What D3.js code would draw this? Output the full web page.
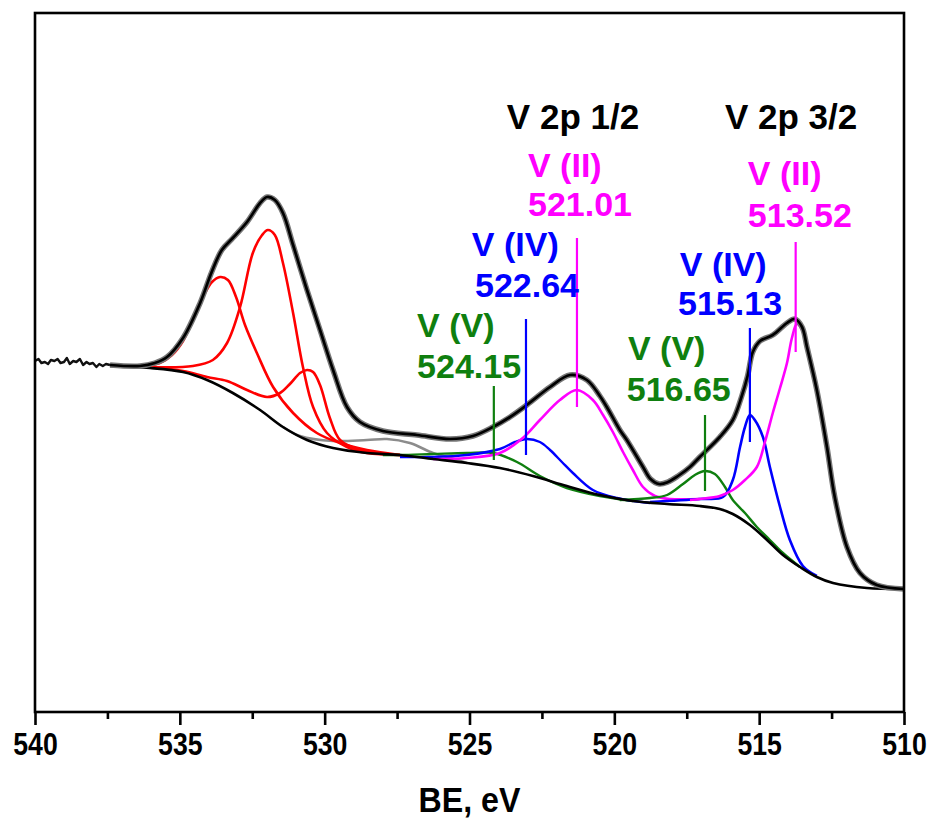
<!DOCTYPE html>
<html>
<head>
<meta charset="utf-8">
<script src="https://cdnjs.cloudflare.com/ajax/libs/d3/7.8.5/d3.min.js"></script>
<style>
  body { margin: 0; background: #fff; }
  #chart text { font-family: "Liberation Sans", Arial, Helvetica, sans-serif; font-weight: bold; }
</style>
</head>
<body>
<div id="chart"></div>
<script>
// ---- data: [binding energy eV, intensity a.u.] ----
var majorTicks = [540, 535, 530, 525, 520, 515, 510];
var minorTicks = [537.5, 532.5, 527.5, 522.5, 517.5, 512.5];

var rawLeft = [
  [540.00, 351], [539.88, 353], [539.78, 349], [539.66, 350], [539.55, 348], [539.45, 352],
  [539.33, 351], [539.22, 353], [539.12, 349], [539.00, 350], [538.90, 354], [538.80, 348],
  [538.68, 351], [538.57, 350], [538.45, 353], [538.34, 347], [538.22, 350], [538.12, 348],
  [538.00, 349], [537.88, 345], [537.78, 348], [537.66, 346], [537.55, 348], [537.41, 347]
];

var envelope = [
  [537.41, 347], [536.38, 346], [535.86, 349], [535.44, 355], [534.89, 374], [534.30, 409],
  [533.90, 440], [533.55, 462], [533.17, 474], [532.68, 490], [532.23, 509], [531.99, 515],
  [531.72, 512], [531.44, 499], [531.09, 467], [530.61, 422], [530.16, 382], [529.71, 342],
  [529.23, 305], [528.78, 290], [527.99, 281], [526.81, 277], [525.67, 273], [524.88, 276],
  [524.19, 285], [523.60, 295], [523.02, 307], [522.22, 325], [521.53, 337], [520.95, 332],
  [520.50, 316], [520.26, 305], [519.81, 282], [519.57, 272], [519.01, 245], [518.75, 233],
  [518.45, 228], [518.15, 230], [517.80, 236], [517.39, 245], [517.05, 255], [516.36, 275],
  [515.91, 292], [515.60, 316], [515.40, 336], [515.22, 360], [514.97, 371], [514.53, 377],
  [514.04, 389], [513.77, 393], [513.52, 385], [513.35, 365], [513.01, 322], [512.66, 265],
  [512.39, 215], [511.97, 165], [511.52, 139], [510.94, 127], [510.00, 123]
];

var background = [
  [537.41, 346], [536.03, 344], [534.89, 340], [534.06, 332], [533.17, 319], [532.23, 302],
  [531.44, 285], [530.61, 272], [529.71, 264], [528.54, 259], [527.40, 257], [526.26, 253],
  [525.09, 249], [523.95, 244], [522.81, 236], [521.64, 226], [520.50, 217], [519.36, 211],
  [518.18, 208], [517.05, 206], [516.36, 203], [515.91, 198], [515.32, 187], [514.73, 172],
  [514.18, 157], [513.59, 145], [513.01, 135], [512.45, 129], [511.28, 124], [510.00, 123]
];

var redA = [
  [536.38, 346], [535.69, 349], [535.27, 357], [534.89, 371], [534.48, 397], [534.13, 419],
  [533.89, 430], [533.61, 435], [533.34, 432], [533.06, 415], [532.75, 387], [532.34, 359],
  [531.78, 325], [531.09, 299], [530.27, 279], [529.47, 269], [528.54, 262], [527.40, 257]
];
var redB = [
  [536.03, 345], [534.55, 346], [533.86, 352], [533.37, 369], [532.92, 405], [532.48, 459],
  [532.16, 477], [531.96, 482], [531.72, 477], [531.44, 449], [531.09, 399], [530.75, 345],
  [530.40, 305], [529.92, 279], [529.23, 265], [528.54, 259], [527.40, 257]
];
var redC = [
  [536.03, 345], [534.89, 341], [534.06, 335], [533.37, 331], [532.68, 322], [531.99, 315],
  [531.54, 319], [531.20, 328], [530.85, 339], [530.61, 342], [530.40, 340], [530.16, 327],
  [529.82, 294], [529.47, 272], [528.78, 262], [527.40, 257]
];
var greyPeak = [
  [531.44, 285], [530.85, 276], [529.71, 271], [528.54, 272], [527.85, 273], [527.06, 269],
  [526.26, 259], [525.78, 255], [525.09, 249]
];
var greenHalf = [
  [527.99, 257], [527.40, 257], [526.26, 258], [525.09, 259], [524.19, 259], [523.36, 250],
  [522.57, 236], [521.64, 224], [520.50, 216], [519.36, 211]
];
var blueHalf = [
  [527.40, 255], [526.26, 255], [525.09, 257], [523.95, 263], [523.43, 270], [523.02, 273],
  [522.57, 270], [522.22, 262], [521.81, 250], [521.43, 239], [520.74, 222], [519.91, 214],
  [518.77, 209]
];
var magentaHalf = [
  [526.26, 253], [525.09, 254], [523.95, 259], [523.16, 274], [522.57, 292], [521.88, 312],
  [521.29, 322], [520.74, 312], [520.39, 297], [520.05, 280], [519.70, 260], [519.36, 242],
  [519.01, 225], [518.60, 216], [518.08, 213], [517.05, 213]
];
var greenMain = [
  [519.81, 212], [518.77, 214], [518.18, 217], [517.63, 228], [517.22, 237], [516.87, 241],
  [516.53, 238], [516.18, 225], [515.91, 212], [515.49, 199], [515.08, 185], [514.63, 172],
  [514.18, 159], [513.59, 145]
];
var blueMain = [
  [518.77, 210], [517.05, 213], [516.25, 215], [515.91, 232], [515.66, 265], [515.49, 285],
  [515.32, 297], [515.15, 292], [514.87, 275], [514.63, 245], [514.28, 205], [513.94, 172],
  [513.49, 146], [513.01, 136]
];
var magentaMain = [
  [517.39, 212], [517.05, 213], [516.36, 216], [515.91, 222], [515.49, 232], [515.08, 245],
  [514.80, 270], [514.53, 299], [514.28, 324], [514.04, 349], [513.87, 374], [513.70, 388],
  [513.52, 382], [513.35, 365], [513.01, 322], [512.66, 265], [512.39, 215], [511.97, 165],
  [511.52, 139], [510.94, 127], [510.00, 123]
];

// peak marker lines: position, top and bottom intensity
var markerBE     = [524.16, 523.05, 521.29, 516.87, 515.32, 513.74];
var markerTop    = [326, 393, 474, 297, 384, 470];
var markerBottom = [252, 257, 305, 221, 270, 360];
var markerColor  = ["#0f7f0f", "#0000ff", "#ff00ff", "#0f7f0f", "#0000ff", "#ff00ff"];

var labelText  = ["V 2p 1/2", "V 2p 3/2", "V (II)", "521.01", "V (II)", "513.52",
                  "V (IV)", "522.64", "V (IV)", "515.13", "V (V)", "524.15", "V (V)", "516.65"];
var labelColor = ["#000", "#000", "#ff00ff", "#ff00ff", "#ff00ff", "#ff00ff",
                  "#0000ff", "#0000ff", "#0000ff", "#0000ff", "#0f7f0f", "#0f7f0f", "#0f7f0f", "#0f7f0f"];

// ---- layout ----
var margin = {top: 13, right: 26, bottom: 111, left: 35},
    width = 930 - margin.left - margin.right,
    height = 823 - margin.top - margin.bottom;

// label anchors (left edge BE, baseline intensity)
var labelAnchor = [
  [523.71, 583], [516.18, 583], [522.98, 535], [522.98, 496], [515.39, 527], [515.39, 485],
  [524.92, 456], [524.81, 415], [517.74, 436], [517.80, 397], [526.81, 375], [526.81, 334],
  [519.53, 352], [519.57, 311]
];

var x = d3.scaleLinear().domain([540, 510]).range([0, width]);
var y = d3.scaleLinear().domain([0, height]).range([height, 0]);

var svg = d3.select("#chart").append("svg")
    .attr("width", 930)
    .attr("height", 823)
  .append("g")
    .attr("transform", "translate(" + margin.left + "," + margin.top + ")");

svg.append("clipPath").attr("id", "plot-clip")
  .append("rect").attr("width", width).attr("height", height);

var line = d3.line()
    .x(function(d){ return x(d[0]); })
    .y(function(d){ return y(d[1]); });

var plot = svg.append("g").attr("clip-path", "url(#plot-clip)");

function drawCurve(data, color, w, curve){
    line.curve(curve || d3.curveCatmullRom.alpha(0.5));
    plot.append("path")
        .datum(data)
        .attr("d", line)
        .attr("fill", "none")
        .attr("stroke", color)
        .attr("stroke-width", w)
        .attr("stroke-linejoin", "round");
}

// fitted components
drawCurve(greyPeak, "#8c8c8c", 2.6);
drawCurve(redA, "#ff0000", 2.6);
drawCurve(redB, "#ff0000", 2.6);
drawCurve(redC, "#ff0000", 2.6);
drawCurve(greenHalf, "#0f7f0f", 2.4);
drawCurve(blueHalf, "#0000ff", 2.4);
drawCurve(magentaHalf, "#ff00ff", 2.6);
drawCurve(greenMain, "#0f7f0f", 2.4);
drawCurve(blueMain, "#0000ff", 2.6);
drawCurve(magentaMain, "#ff00ff", 2.6);
drawCurve(background, "#000", 2.6);

// raw data (grey halo) and envelope
drawCurve(envelope, "#777", 5.5);
drawCurve(rawLeft, "#111", 2.4, d3.curveLinear);
drawCurve(envelope, "#000", 2.7);

// marker lines
svg.selectAll(".marker")
    .data(markerBE)
  .enter().append("line")
    .attr("class", "marker")
    .attr("x1", function(d){ return x(d); })
    .attr("x2", function(d){ return x(d); })
    .attr("y1", function(d, i){ return y(markerTop[i]); })
    .attr("y2", function(d, i){ return y(markerBottom[i]); })
    .attr("stroke", function(d, i){ return markerColor[i]; })
    .attr("stroke-width", 2.2);

// annotations
svg.selectAll(".label")
    .data(labelText)
  .enter().append("text")
    .attr("class", "label")
    .attr("x", function(d, i){ return x(labelAnchor[i][0]); })
    .attr("y", function(d, i){ return y(labelAnchor[i][1]); })
    .attr("fill", function(d, i){ return labelColor[i]; })
    .style("font-size", function(d, i){ return i < 2 ? "35px" : "34px"; })
    .text(function(d){ return d; });

// frame
svg.append("rect")
    .attr("width", width)
    .attr("height", height)
    .attr("fill", "none")
    .attr("stroke", "#000")
    .attr("stroke-width", 2.6);

// x axis
var xAxis = d3.axisBottom(x).tickValues(majorTicks).tickSize(13).tickPadding(8)
    .tickFormat(d3.format("d"));
var xMinor = d3.axisBottom(x).tickValues(minorTicks).tickSize(7).tickFormat("");

var gx = svg.append("g")
    .attr("transform", "translate(0," + height + ")")
    .call(xAxis);
gx.select(".domain").remove();
gx.selectAll(".tick line").attr("stroke", "#000").attr("stroke-width", 2.6);
gx.selectAll(".tick text")
    .attr("fill", "#000")
    .attr("transform", "scale(0.86,1)")
    .style("font-size", "31px");

var gm = svg.append("g")
    .attr("transform", "translate(0," + height + ")")
    .call(xMinor);
gm.select(".domain").remove();
gm.selectAll(".tick line").attr("stroke", "#000").attr("stroke-width", 2.6);

svg.append("text")
    .attr("x", width / 2)
    .attr("y", height + 100)
    .attr("text-anchor", "middle")
    .attr("transform", "translate(" + (width / 2) + ",0) scale(0.92,1) translate(" + (-width / 2) + ",0)")
    .style("font-size", "35px")
    .text("BE, eV");
</script>
</body>
</html>
